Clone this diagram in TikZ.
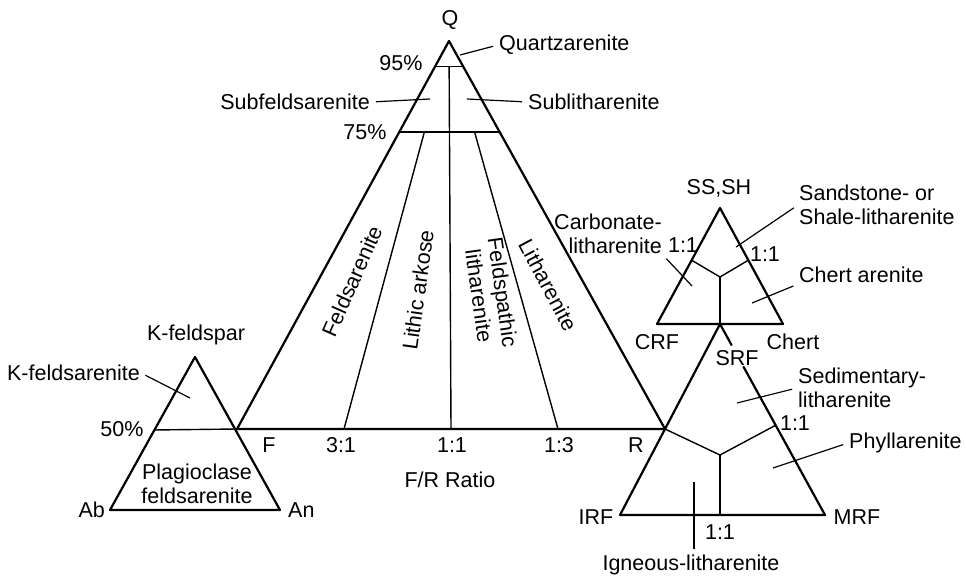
\documentclass[tikz,border=0pt]{standalone}
\usepackage{fontspec}
\setmainfont{Liberation Sans}
\usetikzlibrary{calc}
\tikzset{
  lbl/.style={font=\fontsize{21.5}{24}\selectfont, inner sep=1pt},
  twoline/.style={lbl, align=left},
  rim/.style={line width=2.2pt, line join=round, line cap=round},
  split/.style={line width=1.4pt},
  leader/.style={line width=1.2pt, shorten >=5pt}
}

\begin{document}
\begin{tikzpicture}[x=1pt, y=-1pt]
\useasboundingbox (0,0) rectangle (966,580);
% Q-F-R triangle
\coordinate (Q) at (449,41);
\coordinate (F) at (237,429);
\coordinate (R) at (665,429);
\coordinate (q95l) at ($(Q)!0.065!(F)$);
\coordinate (q95r) at ($(Q)!0.065!(R)$);
\coordinate (q75l) at ($(Q)!0.235!(F)$);
\coordinate (q75r) at ($(Q)!0.235!(R)$);
\draw[rim] (F) -- (Q) -- (R) -- cycle;
\draw[split] (q95l) -- (q95r);
\draw[split] (q75l) -- (q75r);
\draw[split] ($(q95l)!0.5!(q95r)$) -- ($(F)!0.5!(R)$);
\draw[split] ($(q75l)!0.25!(q75r)$) -- ($(F)!0.25!(R)$);
\draw[split] ($(q75l)!0.75!(q75r)$) -- ($(F)!0.75!(R)$);
% K-feldspar triangle
\coordinate (K) at (195,357);
\coordinate (Ab) at (110,510);
\coordinate (An) at (280,510);
\coordinate (k50) at ($(K)!0.477!(Ab)$);
\draw[rim] (K) -- (Ab) -- (An) -- cycle;
\draw[split] (k50) -- (F);
% SS,SH - CRF - Chert triangle
\coordinate (S) at (720,208);
\coordinate (C) at (657,324);
\coordinate (Ch) at (783,324);
\coordinate (SRF) at ($(C)!0.5!(Ch)$);
\coordinate (s-o) at (720,277);
\coordinate (s-l) at ($(S)!0.45!(C)$);
\coordinate (s-r) at ($(S)!0.45!(Ch)$);
\draw[rim] (S) -- (C) -- (Ch) -- cycle;
\draw[split] (s-l) -- (s-o) -- (s-r);
\draw[split] (s-o) -- (SRF);
% SRF - IRF - MRF triangle
\coordinate (IRF) at (620,515);
\coordinate (MRF) at (825,515);
\coordinate (m-o) at (720,455);
\coordinate (m-r) at ($(SRF)!0.53!(MRF)$);
\coordinate (gap-a) at ($(SRF)!0.11!(MRF)$);
\coordinate (gap-b) at ($(SRF)!0.225!(MRF)$);
\draw[rim] (SRF) -- (IRF) -- (MRF) -- (gap-b);
\draw[rim] (SRF) -- (gap-a);
\draw[split] (R) -- (m-o) -- (m-r);
\draw[split] (m-o) -- (m-o |- MRF);

\node[lbl] (q) at (450,20) {Q};
\node[lbl] (p95) at (401,63) {95\%};
\node[lbl] (p75) at (365,132) {75\%};
\node[lbl, anchor=west] (qa) at (498,45) {Quartzarenite};
\node[lbl, anchor=east] (sf) at (371,102) {Subfeldsarenite};
\node[lbl, anchor=west] (sl) at (527,102) {Sublitharenite};
\node[lbl, rotate=66] (fa) at (352,281) {Feldsarenite};
\node[lbl, rotate=82] (la) at (418,290) {Lithic arkose};
\node[lbl, rotate=-82, align=center] (fl) at (491,294) {Feldspathic\\litharenite};
\node[lbl, rotate=-62] (lt) at (548,285) {Litharenite};
\node[lbl] (f) at (269,445) {F};
\node[lbl] (r31) at (341,445) {3:1};
\node[lbl] (r11) at (452,445) {1:1};
\node[lbl] (r13) at (559,445) {1:3};
\node[lbl] (r) at (636,445) {R};
\node[lbl] (fr) at (450,480) {F/R Ratio};

\node[lbl] (kf) at (196,335) {K-feldspar};
\node[lbl, anchor=east] (kfa) at (141,373) {K-feldsarenite};
\node[lbl] (p50) at (122,429) {50\%};
\node[lbl, align=center] (pf) at (197,484) {Plagioclase\\feldsarenite};
\node[lbl, anchor=east] (ab) at (106,510) {Ab};
\node[lbl, anchor=west] (an) at (287,510) {An};

\node[lbl] (ss) at (719,188) {SS,SH};
\node[twoline, anchor=west] (sh) at (798,205) {Sandstone- or\\Shale-litharenite};
\node[lbl] (s11r) at (765,254) {1:1};
\node[lbl, align=right, anchor=east] (cl) at (663,234) {Carbonate-\\litharenite};
\node[lbl] (s11l) at (683,245) {1:1};
\node[lbl, anchor=west] (ca) at (798,275) {Chert arenite};
\node[lbl] (crf) at (657,342) {CRF};
\node[lbl] (ch) at (793,342) {Chert};
\node[lbl] (srf) at (737,358) {SRF};
\node[twoline, anchor=west] (sd) at (797,388) {Sedimentary-\\litharenite};
\node[lbl] (m11r) at (795,423) {1:1};
\node[lbl, anchor=west] (ph) at (848,443) {Phyllarenite};
\node[lbl] (irf) at (596,517) {IRF};
\node[lbl] (mrf) at (857,517) {MRF};
\node[lbl] (m11b) at (720,532) {1:1};
\node[lbl] (il) at (691,565) {Igneous-litharenite};

\coordinate (qa-in) at (460,55);
\coordinate (sf-in) at (430,99);
\coordinate (sl-in) at (467,99);
\coordinate (kfa-in) at (190,398);
\coordinate (sh-in) at (736,247);
\coordinate (cl-in) at (692,286);
\coordinate (ca-in) at (752,303);
\coordinate (sd-in) at (737,403);
\coordinate (ph-in) at (773,468);
\coordinate (il-in) at (694,482);
\draw[leader] (qa-in) -- (qa.west);
\draw[leader] (sf-in) -- (sf.east);
\draw[leader] (sl-in) -- (sl.west);
\draw[leader] (kfa-in) -- (kfa.east);
\draw[leader] (sh-in) -- (sh.west);
\draw[leader] (cl-in) -- (cl.south east);
\draw[leader] (ca-in) -- (ca.south west);
\draw[leader] (sd-in) -- (sd.west);
\draw[leader] (ph-in) -- (ph.west);
\draw[leader] (il-in) -- (il-in |- il.north);
\end{tikzpicture}
\end{document}
